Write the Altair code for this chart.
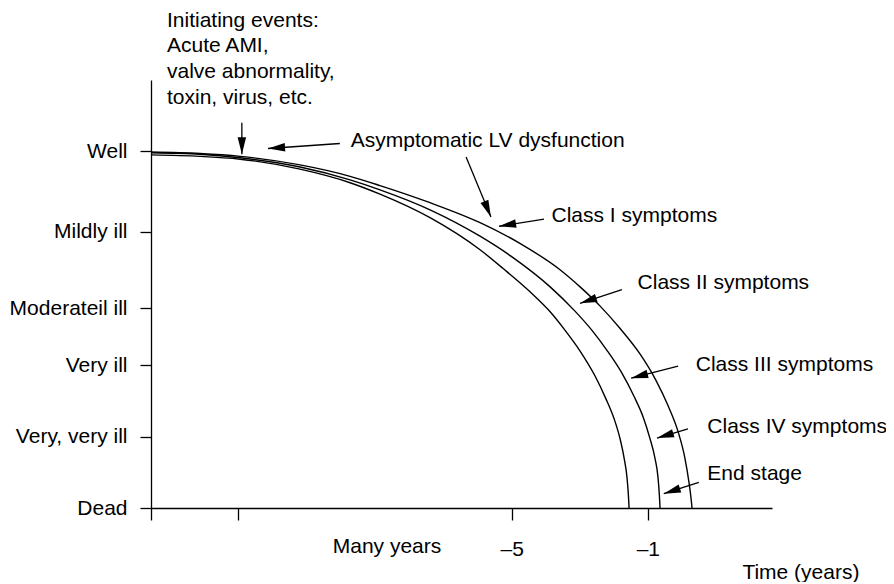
import math
import altair as alt
import pandas as pd

# ---------------- data ----------------
level_names = ["Dead", "Very, very ill", "Very ill", "Moderateil ill", "Mildly ill", "Well"]
level_values = [0.0, 1.0, 2.0, 2.8, 3.87, 5.0]

x_tick_values = [-15.6, -13.04, -5.0, -1.0]
x_tick_labels = ["", "", "–5", "–1"]

# three progression curves (time in years, health level)
curve1_x = [-15.6, -14.16, -12.98, -11.22, -9.75, -8.87, -7.40, -5.93, -4.76, -3.58, -2.99,
            -2.40, -1.82, -1.23, -0.76, -0.41, -0.11, 0.09, 0.21, 0.27, 0.30]
curve1_y = [4.99, 4.97, 4.93, 4.81, 4.65, 4.52, 4.28, 4.00, 3.71, 3.34, 3.10,
            2.83, 2.52, 2.16, 1.79, 1.44, 1.07, 0.70, 0.36, 0.14, 0.0]
curve2_x = [-15.6, -14.16, -12.98, -11.22, -9.75, -8.87, -7.40, -5.93, -4.96, -3.87, -3.14,
            -2.64, -2.20, -1.76, -1.41, -1.14, -0.94, -0.79, -0.70, -0.66, -0.64]
curve2_y = [4.98, 4.96, 4.91, 4.78, 4.60, 4.46, 4.18, 3.81, 3.51, 3.10, 2.76,
            2.49, 2.21, 1.89, 1.57, 1.28, 0.98, 0.70, 0.43, 0.18, 0.0]
curve3_x = [-15.6, -14.16, -12.98, -11.22, -9.75, -8.87, -7.40, -5.93, -5.26, -4.46, -3.87,
            -3.43, -2.99, -2.55, -2.23, -1.99, -1.82, -1.70, -1.61, -1.57, -1.55]
curve3_y = [4.95, 4.93, 4.89, 4.75, 4.56, 4.40, 4.07, 3.62, 3.36, 3.03, 2.75,
            2.49, 2.20, 1.85, 1.53, 1.25, 0.98, 0.71, 0.42, 0.18, 0.0]

# annotation arrows: start (x1, y1) -> tip (x2, y2)
arrow_x1 = [-12.93, -10.05, -6.34, -4.05, -1.76, -0.11, 0.18, 0.50]
arrow_y1 = [5.40, 5.11, 4.92, 4.05, 3.06, 1.99, 1.11, 0.36]
arrow_x2 = [-12.93, -12.16, -5.61, -5.37, -2.99, -1.49, -0.73, -0.53]
arrow_y2 = [4.96, 5.04, 4.08, 3.95, 2.87, 1.82, 0.98, 0.20]

# annotation texts
label_text = ["Initiating events:", "Acute AMI,", "valve abnormality,", "toxin, virus, etc.",
              "Asymptomatic LV dysfunction", "Class I symptoms", "Class II symptoms",
              "Class III symptoms", "Class IV symptoms", "End stage", "Many years", "Time (years)"]
label_x = [-15.13, -15.13, -15.13, -15.13, -9.73, -3.83, -1.30, 0.41, 0.75, 0.75, -10.26, 1.78]
label_y = [6.83, 6.47, 6.11, 5.75, 5.14, 4.09, 3.15, 2.00, 1.14, 0.47, -0.55, -0.91]

# ---------------- layout ----------------
W, H = 621, 428
X_DOMAIN = [-15.6, 2.65]
Y_DOMAIN = [0, 6]
FONT = "Liberation Sans"
FS = 21

kx = W / (X_DOMAIN[1] - X_DOMAIN[0])
ky = H / (Y_DOMAIN[1] - Y_DOMAIN[0])

curves = pd.concat([
    pd.DataFrame({"x": curve1_x, "y": curve1_y, "series": "a", "order": range(len(curve1_x))}),
    pd.DataFrame({"x": curve2_x, "y": curve2_y, "series": "b", "order": range(len(curve2_x))}),
    pd.DataFrame({"x": curve3_x, "y": curve3_y, "series": "c", "order": range(len(curve3_x))}),
])

angles = []
for a, b, c, d in zip(arrow_x1, arrow_y1, arrow_x2, arrow_y2):
    dxp = (c - a) * kx
    dyp = -(d - b) * ky
    angles.append(math.degrees(math.atan2(dxp, -dyp)) % 360)
arrows = pd.DataFrame({"x": arrow_x1, "y": arrow_y1, "x2": arrow_x2, "y2": arrow_y2, "angle": angles})
labels = pd.DataFrame({"x": label_x, "y": label_y, "text": label_text})

x_expr = " : ".join(
    f"abs(datum.value - ({v})) < 0.01 ? '{t}'" for v, t in zip(x_tick_values, x_tick_labels)
) + " : ''"
y_expr = " : ".join(
    f"abs(datum.value - ({v})) < 0.01 ? '{t}'" for v, t in zip(level_values, level_names)
) + " : ''"

x_axis = alt.Axis(values=x_tick_values, labelExpr=x_expr, title=None, grid=False,
                  tickSize=12, labelPadding=18, labelFont=FONT, labelFontSize=FS,
                  labelColor="black", domainColor="black", tickColor="black",
                  domainWidth=1.3, tickWidth=1.3, labelBaseline="top")
y_axis = alt.Axis(values=level_values, labelExpr=y_expr, title=None, grid=False,
                  tickSize=11, labelPadding=13, labelFont=FONT, labelFontSize=FS,
                  labelColor="black", domainColor="black", tickColor="black",
                  domainWidth=1.3, tickWidth=1.3)

xs = alt.Scale(domain=X_DOMAIN, nice=False, zero=False)
ys = alt.Scale(domain=Y_DOMAIN, nice=False, zero=False)

X = alt.X("x:Q", scale=xs, axis=x_axis)
Y = alt.Y("y:Q", scale=ys, axis=y_axis)

lines = alt.Chart(curves).mark_line(color="black", strokeWidth=1.4, interpolate="monotone").encode(
    x=X, y=Y, detail="series:N", order="order:Q"
)

shafts = alt.Chart(arrows).mark_rule(color="black", strokeWidth=1.3).encode(
    x=X, y=Y, x2="x2:Q", y2="y2:Q"
)

heads = alt.Chart(arrows).mark_point(
    shape="M0,0 L-0.5,2 L0.5,2 Z", filled=True, color="black", opacity=1, size=289, strokeWidth=0
).encode(
    x=alt.X("x2:Q", scale=xs, axis=x_axis),
    y=alt.Y("y2:Q", scale=ys, axis=y_axis),
    angle=alt.Angle("angle:Q", scale=None),
)

texts = alt.Chart(labels).mark_text(
    align="left", baseline="middle", font=FONT, fontSize=FS, color="black"
).encode(x=X, y=Y, text="text:N")

chart = alt.layer(lines, shafts, heads, texts).properties(
    width=W, height=H,
    padding={"left": 143, "top": 72, "right": 114, "bottom": 74},
    autosize=alt.AutoSizeParams(type="none"),
    background="white",
).configure_view(stroke=None)

chart.save("out.html", embed_options={"renderer": "svg", "actions": False})
